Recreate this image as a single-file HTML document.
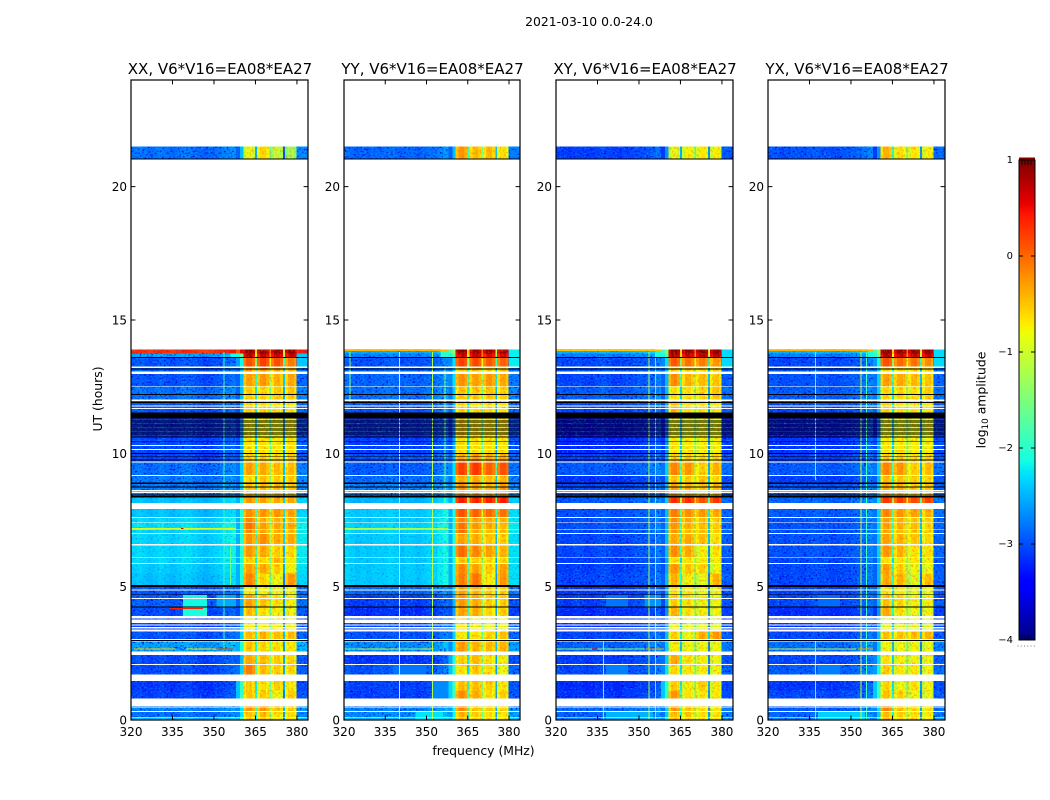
<!DOCTYPE html>
<html>
<head>
<meta charset="utf-8">
<title>2021-03-10 0.0-24.0</title>
<style>
html,body{margin:0;padding:0;background:#fff;}
svg{display:block;font-family:"DejaVu Sans","Liberation Sans",sans-serif;fill:#000;}
</style>
</head>
<body>
<svg id="figure" xmlns="http://www.w3.org/2000/svg" width="1050" height="800" viewBox="0 0 1050 800">
<defs>
<filter id="speckle-dark" filterUnits="userSpaceOnUse" x="0" y="0" width="1050" height="800" color-interpolation-filters="sRGB">
<feTurbulence type="fractalNoise" baseFrequency="0.45 0.55" numOctaves="2" seed="7" result="n"/>
<feColorMatrix in="n" type="matrix" values="0 0 0 0 0  0 0 0 0 0  0 0 0 0 0.88  5 0 0 0 -2.7" result="c"/>
<feComposite in="c" in2="SourceAlpha" operator="in"/>
</filter>
<filter id="speckle-light" filterUnits="userSpaceOnUse" x="0" y="0" width="1050" height="800" color-interpolation-filters="sRGB">
<feTurbulence type="fractalNoise" baseFrequency="0.45 0.6" numOctaves="2" seed="19" result="n"/>
<feColorMatrix in="n" type="matrix" values="0 0 0 0 0  0 0 0 0 0.68  0 0 0 0 1  0 5 0 0 -2.8" result="c"/>
<feComposite in="c" in2="SourceAlpha" operator="in"/>
</filter>
<filter id="speckle-warm" filterUnits="userSpaceOnUse" x="0" y="0" width="1050" height="800" color-interpolation-filters="sRGB">
<feTurbulence type="fractalNoise" baseFrequency="0.5 0.4" numOctaves="2" seed="31" result="n"/>
<feColorMatrix in="n" type="matrix" values="0 0 0 0 1  0 0 0 0 0.35  0 0 0 0 0  0 0 5 0 -2.6" result="c"/>
<feComposite in="c" in2="SourceAlpha" operator="in"/>
</filter>
</defs>
<text x="589" y="26" text-anchor="middle" font-size="12.4">2021-03-10 0.0-24.0</text>
<g id="panels"></g>
<text transform="translate(102 399) rotate(-90)" text-anchor="middle" font-size="12.4">UT (hours)</text>
<text x="483.5" y="755" text-anchor="middle" font-size="12.4">frequency (MHz)</text>
<g id="colorbar"></g>
<text transform="translate(985.5 400) rotate(-90)" text-anchor="middle" font-size="12.4">log<tspan font-size="8.8" dy="2.5">10</tspan><tspan dy="-2.5"> amplitude</tspan></text>
</svg>
<script>
// ---- Chart data ----
const panelTitles = ["XX, V6*V16=EA08*EA27","YY, V6*V16=EA08*EA27","XY, V6*V16=EA08*EA27","YX, V6*V16=EA08*EA27"];
const freqTicks = [320,335,350,365,380];
const utTicks = [0,5,10,15,20];
const colorbarTicks = [-4,-3,-2,-1,0,1];
const colorbarTickLabels = ["\u22124","\u22123","\u22122","\u22121","0","1"];

// Time bands (UT hours)
const bandStart = [0,.12,.3,.8,1.1,1.7,2.1,2.56,3.04,3.4,3.9,4.26,4.7,5.06,5.5,5.89,6.12,6.6,7.0,7.17,7.41,7.62,8.14,8.41,8.9,9.19,9.69,10.02,10.6,11.53,12.02,12.53,13.06,13.25,13.62,13.75,21.05];
const bandEnd = [.12,.3,.53,1.1,1.46,2.06,2.45,2.95,3.32,3.9,4.22,4.7,4.98,5.5,5.85,6.1,6.55,7.0,7.17,7.41,7.57,7.92,8.35,8.85,9.15,9.65,10.0,10.6,11.48,11.96,12.5,12.97,13.25,13.58,13.75,13.9,21.5];

// log10 amplitude per band: [low band, transition, block 1, block 2, block 3, block 4]
const levelsXX = [
[-2.5,-2.2,-.6,-.55,-.75,-.7],[-2.85,-2.5,-.55,-.5,-.7,-.7],[-2.75,-2.5,-.3,-.3,-.55,-.6],
[-3.1,-2.2,-.55,-.6,-.85,-.6],[-3.15,-2.2,-.6,-.7,-.6,-.75],[-3.05,-2.6,-.15,-.5,-.6,-.65],
[-3.05,-2.7,-.4,-.5,-.6,-.65],[-2.6,-2.3,-.55,-.65,-.7,-.75],[-3.0,-2.6,-.5,-.45,-.5,-.5],
[-3.1,-2.7,-.75,-.8,-.8,-.85],[-3.05,-2.8,-.5,-.7,-.8,-.85],[-2.95,-2.7,-.35,-.55,-.7,-.8],
[-3.0,-2.7,-.75,-.8,-.85,-.85],[-2.45,-2.3,-.2,-.65,-.85,-.3],[-2.4,-2.3,-.35,-.4,-.6,-.8],
[-2.35,-2.3,-.6,-.65,-.45,-.75],[-2.35,-2.3,-.3,-.4,-.6,-.65],[-2.35,-2.3,-.3,-.25,-.4,-.4],
[-2.35,-2.3,-.25,-.4,-.45,-.5],[-2.3,-2.3,-.1,-.35,-.4,-.4],[-2.35,-2.3,-.2,-.45,-.45,-.5],
[-2.45,-2.3,-.25,-.3,-.3,-.35],[-2.45,-2.3,-.3,-.35,-.4,-.4],[-2.8,-2.6,-.55,-.5,-.5,-.55],
[-2.8,-2.6,-.65,-.55,-.6,-.6],[-2.85,-2.6,-.35,-.4,-.5,-.5],[-3.1,-2.8,-.6,-.6,-.65,-.6],
[-3.05,-2.8,-.7,-.7,-.75,-.7],[-3.2,-3.0,-.8,-.8,-.8,-.8],[-3.0,-2.8,-.6,-.65,-.7,-.75],
[-2.85,-2.7,-.6,-.65,-.6,-.55],[-3.0,-2.7,-.35,-.3,-.45,-.4],[-2.95,-2.7,-.35,-.3,-.4,-.45],
[-3.0,-2.4,.1,.2,.1,-.15],[-2.6,-1.9,.75,.7,.7,.7],[.25,.3,.95,.9,.9,.9],
[-2.85,-2.7,-.9,-.65,-1.1,-1.3]];
const levelsYY = [
[-2.5,-2.2,-.5,-.6,-.7,-.75],[-2.7,-2.4,-.45,-.6,-.7,-.75],[-2.75,-2.4,-.2,-.55,-.6,-.65],
[-3.1,-2.1,-.25,-.4,-.7,-.6],[-3.1,-2.1,-.5,-.5,-.6,-.75],[-3.0,-2.2,-.7,-.55,-.7,-.85],
[-3.15,-2.3,-.6,-.5,-.7,-.8],[-2.7,-2.5,-.3,-.45,-.5,-.45],[-3.0,-2.6,-.75,-.7,-.6,-.5],
[-3.05,-2.7,-.7,-.8,-.85,-.85],[-3.2,-2.8,-.35,-.4,-.65,-.6],[-3.1,-2.7,-.3,-.4,-.6,-.6],
[-2.9,-2.6,-.35,-.45,-.6,-.6],[-2.4,-2.3,-.15,-.1,-.75,-.3],[-2.4,-2.3,-.2,-.35,-.6,-.35],
[-2.4,-2.3,-.55,-.6,-.7,-.65],[-2.4,-2.3,-.05,-.2,-.35,-.45],[-2.4,-2.3,-.35,-.4,-.55,-.6],
[-2.35,-2.3,-.05,-.4,-.5,-.5],[-2.35,-2.3,-.1,-.3,-.4,-.5],[-2.4,-2.3,-.2,-.35,-.4,-.45],
[-2.4,-2.3,.1,0,-.05,-.1],[-2.5,-2.3,.4,.35,.35,.4],[-2.75,-2.5,-.25,-.35,-.45,-.3],
[-2.85,-2.6,-.4,-.4,-.5,-.45],[-2.95,-2.5,.2,.25,0,.1],[-3.0,-2.7,-.4,-.3,-.4,-.4],
[-3.1,-2.8,-.7,-.7,-.7,-.75],[-3.2,-3.0,-.6,-.7,-.7,-.7],[-3.0,-2.7,-.6,-.7,-.65,-.7],
[-2.85,-2.6,-.55,-.55,-.55,-.6],[-2.9,-2.5,-.25,-.35,-.3,-.4],[-2.95,-2.6,-.55,-.5,-.6,-.6],
[-3.0,-2.5,.2,.15,.05,0],[-2.75,-1.9,.7,.7,.6,.6],[-2.55,-1.6,.95,.85,.85,.85],
[-2.9,-2.7,-.3,-.5,-.5,-.7]];
const levelsXY = [
[-2.75,-2.4,-.5,-.6,-.7,-.7],[-2.9,-2.6,-.5,-.6,-.7,-.75],[-2.85,-2.6,-.3,-.55,-.7,-.75],
[-3.15,-2.2,-.3,-.7,-.75,-.75],[-3.2,-2.2,-.6,-.8,-.6,-.8],[-3.05,-2.5,-.65,-.75,-.8,-.85],
[-3.1,-2.6,-.4,-.7,-.8,-.85],[-2.9,-2.6,-.8,-.85,-.85,-.85],[-3.05,-2.7,-.6,-.85,-.4,-.3],
[-3.15,-2.8,-.85,-.9,-.9,-.95],[-3.2,-2.9,-.45,-.7,-.8,-.85],[-3.1,-2.8,-.6,-.7,-.8,-.85],
[-3.15,-2.8,-.7,-.75,-.85,-.85],[-3.05,-2.7,-.45,-.8,-.9,-.45],[-3.1,-2.8,-.3,-.55,-.6,-.85],
[-3.1,-2.8,-.7,-.7,-.75,-.8],[-3.05,-2.7,-.25,-.4,-.8,-.7],[-3.05,-2.7,-.4,-.4,-.5,-.7],
[-3.0,-2.7,-.3,-.5,-.5,-.6],[-3.0,-2.7,-.3,-.45,-.5,-.6],[-3.0,-2.7,-.25,-.4,-.5,-.6],
[-3.0,-2.7,-.15,-.25,-.3,-.4],[-2.95,-2.6,.3,.3,.1,.25],[-3.05,-2.7,-.35,-.45,-.55,-.5],
[-3.15,-2.8,-.55,-.6,-.55,-.65],[-2.95,-2.6,-.2,-.3,-.6,-.45],[-3.1,-2.8,-.6,-.6,-.65,-.65],
[-3.2,-2.9,-.75,-.75,-.8,-.8],[-3.35,-3.1,-.85,-.85,-.85,-.85],[-3.05,-2.8,-.5,-.7,-.7,-.75],
[-2.95,-2.7,-.7,-.7,-.65,-.55],[-3.05,-2.7,-.25,-.45,-.5,-.55],[-3.0,-2.7,-.6,-.6,-.65,-.65],
[-3.05,-2.5,.05,-.1,-.15,-.3],[-2.75,-1.9,.8,.7,.75,.75],[-2.5,-1.7,.95,.9,.95,.9],
[-3.1,-2.9,-.9,-.8,-.75,-.8]];
const levelsYX = [
[-2.7,-2.4,-.45,-.6,-.65,-.75],[-2.9,-2.6,-.5,-.6,-.7,-.75],[-2.95,-2.5,-.2,-.55,-.65,-.7],
[-3.05,-2.2,-.55,-.6,-.85,-.9],[-3.15,-2.2,-.65,-.85,-.7,-.85],[-2.95,-2.4,-.6,-.75,-.75,-.85],
[-3.05,-2.5,-.7,-.8,-.85,-.85],[-2.85,-2.6,-.85,-.85,-.85,-.9],[-3.05,-2.7,-.55,-.55,-.5,-.45],
[-3.15,-2.8,-.9,-.9,-.9,-.95],[-3.2,-2.9,-.4,-.7,-.85,-.85],[-3.05,-2.7,-.55,-.65,-.8,-.8],
[-3.1,-2.7,-.7,-.75,-.9,-.85],[-3.05,-2.7,-.4,-.45,-.95,-.5],[-3.05,-2.7,-.35,-.6,-.85,-.85],
[-3.05,-2.7,-.7,-.7,-.75,-.8],[-3.0,-2.6,-.3,-.45,-.7,-.7],[-3.0,-2.6,-.35,-.45,-.55,-.65],
[-3.0,-2.6,-.4,-.5,-.55,-.6],[-3.0,-2.6,-.35,-.45,-.5,-.6],[-3.0,-2.6,-.35,-.45,-.55,-.6],
[-2.95,-2.6,-.2,-.3,-.35,-.45],[-2.9,-2.5,.25,.2,.15,.2],[-3.0,-2.6,-.4,-.45,-.6,-.55],
[-3.1,-2.7,-.5,-.55,-.6,-.65],[-2.95,-2.6,-.2,-.3,-.6,-.5],[-3.1,-2.8,-.6,-.6,-.7,-.65],
[-3.15,-2.8,-.75,-.75,-.8,-.8],[-3.3,-3.1,-.85,-.85,-.85,-.85],[-3.05,-2.7,-.6,-.7,-.75,-.75],
[-2.95,-2.6,-.65,-.65,-.7,-.6],[-3.0,-2.6,-.35,-.4,-.5,-.55],[-3.0,-2.6,-.6,-.6,-.65,-.65],
[-3.05,-2.4,.1,-.05,-.1,-.25],[-2.75,-1.8,.8,.7,.7,.7],[-2.5,-1.6,.95,.9,.9,.9],
[-3.0,-2.9,-.45,-.7,-.75,-.8]];
const panelLevels = [levelsXX, levelsYY, levelsXY, levelsYX];

// Low-band spectral offsets (one value per 2 MHz, 320-358 MHz)
const tiltXX = [.05,.1,.05,0,.05,.1,.05,0,.05,.1,.1,.05,0,-.05,0,.05,.1,.15,.2];
const tiltYY = [.1,.05,0,.05,0,.05,.05,.05,.1,.05,0,.05,.05,0,.05,.1,.1,.2,.3];
const tiltXY = [.05,0,0,.05,.05,0,0,.05,.1,.05,0,0,.05,.05,.1,.1,.15,.2,.3];
const tiltYX = [.05,.05,0,0,.05,.05,0,.05,.1,.05,.05,0,0,.05,.05,.1,.15,.2,.3];
const panelTilt = [tiltXX, tiltYY, tiltXY, tiltYX];

// Bright-block frequency ranges (MHz) and their profile across each block
const blockStart = [360.6,365.6,370.6,375.7];
const blockEnd = [364.8,370,375,379.9];
const blockProfile = [-.22,.03,.06,-.12];
const gapDrop = [-1.6,-.95,-1.9];

// Localised bright patches: panel, f0, f1, h0, h1, level
const patches = [
[0,338.8,347.4,3.9,4.22,-2.1],[0,338.8,347.4,4.26,4.7,-2.15],[0,351,358,4.26,4.7,-2.55],
[1,338,350,1.7,2.06,-2.8],[1,346,356,0,.3,-2.25],[1,352,358,.8,1.46,-2.7],
[2,338,346,1.7,2.06,-2.75],[2,338,346,4.26,4.7,-2.8],[2,338,355,0,.3,-2.5],[2,352,358,4.26,4.7,-2.65],
[3,338,346,1.7,2.06,-2.75],[3,338,355,0,.3,-2.35],[3,338,346,4.26,4.7,-2.85],
[0,356,358,13.62,13.75,-2.1],[1,355,358,13.62,13.9,-2.0],[2,356,358,13.62,13.9,-2.1],[3,356,358,13.62,13.9,-2.1],
[0,380,384,13.25,13.75,-2.4],[1,380,384,13.25,13.9,-2.2],[2,380,384,13.25,13.9,-2.3],[3,380,384,13.25,13.9,-2.3]];

// Horizontal interference lines: panel, f0, f1, hour, level
const rfiRows = [
[0,321,336,2.68,-.55],[0,340,351,2.68,-.7],[0,351.5,357,2.68,.3],[0,334,346,4.2,.4],[0,320,358,7.2,-.95],[0,338,339,7.2,.6],
[1,320,352,2.68,-1.5],[1,325,340,2.68,-1.1],[1,348,352.5,2.68,-.9],[1,320,358,7.2,-1.2],
[2,320,352,2.68,-1.4],[2,352.5,359,2.68,-.3],[2,333,335,2.68,.4],
[3,320,352,2.68,-1.2],[3,352.5,358,2.68,-.3],
[1,320,358,13.88,-.4],[2,320,358,13.88,-.5],[3,320,358,13.88,-.4]];

// Vertical interference columns: panel, freq, h0, h1, level
const rfiColumns = [
[1,340,0,13.8,-1.0],[1,352,0,13.8,-1.2],[1,322,11.9,13.8,-1.4],[1,356.5,8,13.2,-1.6],
[0,353.4,2.6,13.8,-1.9],[0,355.8,5,6.5,-1.6],
[2,353.5,0,13.8,-1.2],[2,355.8,0,13.8,-1.9],[2,337,0,3,-1.8],
[3,353.5,0,13.8,-1.0],[3,337,0,3,-1.8],[3,337,9,13.8,-1.8],[3,355.5,0,13.8,-1.9]];

// Flagged integrations: blank (white) and zeroed (black), UT hours
const blankStart = [.09,.3,.47,.53,1.46,2.06,2.44,2.94,3.0,3.31,3.44,3.55,3.63,3.81,4.54,4.86,5.85,6.09,6.55,6.97,7.14,7.38,7.57,7.92,8.52,8.59,9.15,9.65,10.12,10.27,11.66,11.76,11.96,12.5,12.97,13.2];
const blankEnd = [.12,.34,.5,.8,1.7,2.1,2.56,2.96,3.04,3.4,3.48,3.59,3.77,3.9,4.57,4.9,5.89,6.12,6.6,7.01,7.17,7.41,7.62,8.14,8.56,8.63,9.19,9.69,10.16,10.31,11.7,11.8,12.02,12.53,13.06,13.25];
const zeroStart = [2.96,4.22,4.68,4.98,8.35,8.44,8.71,8.85,9.73,9.86,9.97,10.42,10.6,10.68,10.75,10.83,10.9,10.98,11.05,11.13,11.2,11.28,11.33,11.88,12.19,13.15,13.58,21.01];
const zeroEnd = [3.0,4.26,4.7,5.06,8.41,8.46,8.75,8.9,9.76,9.88,10.02,10.44,10.63,10.71,10.78,10.86,10.93,11.01,11.08,11.16,11.23,11.31,11.53,11.92,12.23,13.19,13.62,21.05];

// ---- Axis functions ----
const panelLefts = [131,344,556,768];
const panelRights = [308,520,733,945];
function xScale(p, f){ return panelLefts[p] + (f-320)*(panelRights[p]-panelLefts[p])/64; }
function yScale(h){ return 720 - h*(640/24); }
function cbScale(v){ return 640 - (v+4)*96; }

function seg(t, pts){
  for(let i=1;i<pts.length;i++){
    if(t<=pts[i][0]){
      const a=pts[i-1],b=pts[i];
      return a[1]+(b[1]-a[1])*(t-a[0])/(b[0]-a[0]);
    }
  }
  return pts[pts.length-1][1];
}
const jetR=[[0,0],[.35,0],[.66,1],[.89,1],[1,.5]];
const jetG=[[0,0],[.125,0],[.375,1],[.64,1],[.91,0],[1,0]];
const jetB=[[0,.5],[.11,1],[.34,1],[.65,0],[1,0]];
function jet(v){
  const t=Math.max(0,Math.min(1,(v+4)/5));
  return 'rgb('+Math.round(255*seg(t,jetR))+','+Math.round(255*seg(t,jetG))+','+Math.round(255*seg(t,jetB))+')';
}

const NS='http://www.w3.org/2000/svg';
function make(tag,parent){
  const e=document.createElementNS(NS,tag);
  parent.appendChild(e);
  return e;
}
function box(parent,x0,x1,y0,y1,fill){
  const r=make('rect',parent);
  r.setAttribute('x',x0.toFixed(2));
  r.setAttribute('y',y0.toFixed(2));
  r.setAttribute('width',Math.max(0,x1-x0).toFixed(2));
  r.setAttribute('height',Math.max(0,y1-y0).toFixed(2));
  r.setAttribute('fill',fill);
  return r;
}

const panelsRoot=document.getElementById('panels');

panelTitles.forEach(function(title,p){
  const L=panelLefts[p],R=panelRights[p];
  const g=make('g',panelsRoot);
  
  

  const t=make('text',g);
  
  
  t.setAttribute('x',(L+R)/2+0.5);
  t.setAttribute('y',74);
  t.setAttribute('text-anchor','middle');
  t.setAttribute('font-size','15');
  t.textContent=title;

  const heat=make('g',g);
  
  
  heat.setAttribute('shape-rendering','crispEdges');

  const levels=panelLevels[p];
  const tilt=panelTilt[p];
  function cell(parent,f0,f1,h0,h1,v){
    const c=box(parent,xScale(p,f0),xScale(p,f1),yScale(h1),yScale(h0),jet(v));
    
    
  }
  bandStart.forEach(function(h0,b){
    const h1=bandEnd[b];
    const row=levels[b];
    tilt.forEach(function(off,i){
      cell(heat,320+2*i,322+2*i,h0,h1,row[0]+off);
    });
    cell(heat,358,359.4,h0,h1,row[1]-0.2);
    cell(heat,359.4,blockStart[0],h0,h1,row[1]+0.25);
    blockStart.forEach(function(fs,k){
      const fe=blockEnd[k];
      const w=(fe-fs)/blockProfile.length;
      blockProfile.forEach(function(dv,j){
        cell(heat,fs+j*w,fs+(j+1)*w,h0,h1,row[2+k]+dv);
      });
      if(k<3){
        cell(heat,fe,blockStart[k+1],h0,h1,row[2+k]+gapDrop[k]);
      }
    });
    cell(heat,blockEnd[3],384,h0,h1,row[0]+0.15);
  });

  // Fine-grain mottling overlays (decorative, follows the band level)
  [['speckle-dark',.85,.22,0],['speckle-light',.55,.25,0],['speckle-warm',0,0,.4]].forEach(function(s){
    const sg=make('g',g);
    
    
    sg.setAttribute('filter','url(#'+s[0]+')');
    bandStart.forEach(function(h0,b){
      const h1=bandEnd[b];
      const op=levels[b][0]>-2.6?s[2]:s[1];
      const y0=yScale(h1),y1=yScale(h0);
      if(op>0){
        box(sg,xScale(p,320),xScale(p,358),y0,y1,'#000').setAttribute('fill-opacity',op);
        box(sg,xScale(p,blockEnd[3]),xScale(p,384),y0,y1,'#000').setAttribute('fill-opacity',op);
      }
      if(s[3]>0){
        box(sg,xScale(p,blockStart[0]),xScale(p,blockEnd[3]),y0,y1,'#000').setAttribute('fill-opacity',s[3]);
      }
    });
  });

  const marks=make('g',g);
  
  
  marks.setAttribute('shape-rendering','crispEdges');
  patches.forEach(function(q){
    if(q[0]!==p) return;
    cell(marks,q[1],q[2],q[3],q[4],q[5]);
  });
  rfiColumns.forEach(function(q){
    if(q[0]!==p) return;
    const x=xScale(p,q[1]);
    const c=box(marks,x,x+1,yScale(q[3]),yScale(q[2]),jet(q[4]));
    
    
  });
  rfiRows.forEach(function(q){
    if(q[0]!==p) return;
    const y=yScale(q[3]);
    const c=box(marks,xScale(p,q[1]),xScale(p,q[2]),y,y+1,jet(q[4]));
    
    
  });

  const flags=make('g',g);
  
  
  flags.setAttribute('shape-rendering','crispEdges');
  blankStart.forEach(function(h0,i){
    const r=box(flags,L,R,yScale(blankEnd[i]),yScale(h0),'#fff');
    
    
  });
  zeroStart.forEach(function(h0,i){
    const r=box(flags,L,R,yScale(zeroEnd[i]),yScale(h0),'#000');
    
    
  });

  const frame=make('rect',g);
  
  
  frame.setAttribute('x',L);
  frame.setAttribute('y',80);
  frame.setAttribute('width',R-L);
  frame.setAttribute('height',640);
  frame.setAttribute('fill','none');
  frame.setAttribute('stroke','#000');
  frame.setAttribute('stroke-width','1.2');

  freqTicks.forEach(function(f){
    const x=xScale(p,f);
    const tb=make('path',g);
    
    
    tb.setAttribute('d','M'+x+' 720V715.6M'+x+' 80V84.4');
    tb.setAttribute('stroke','#000');
    tb.setAttribute('stroke-width','1');
    const lb=make('text',g);
    
    
    lb.setAttribute('x',x);
    lb.setAttribute('y',736);
    lb.setAttribute('text-anchor','middle');
    lb.setAttribute('font-size','12');
    lb.textContent=f;
  });
  utTicks.forEach(function(h){
    const y=yScale(h);
    const tb=make('path',g);
    
    
    tb.setAttribute('d','M'+L+' '+y+'H'+(L+4.4)+'M'+R+' '+y+'H'+(R-4.4));
    tb.setAttribute('stroke','#000');
    tb.setAttribute('stroke-width','1');
    const lb=make('text',g);
    
    
    lb.setAttribute('x',L-4);
    lb.setAttribute('y',y+4.5);
    lb.setAttribute('text-anchor','end');
    lb.setAttribute('font-size','12');
    lb.textContent=h;
  });
});

// ---- Colorbar ----
const cb=document.getElementById('colorbar');
const cbLeft=1019,cbRight=1035;
const cbRamp=make('g',cb);


cbRamp.setAttribute('shape-rendering','crispEdges');
for(let v=-4;v<1;v+=0.025){
  box(cbRamp,cbLeft,cbRight,cbScale(v+0.025),cbScale(v)+0.5,jet(v+0.0125));
}
const cbFrame=make('rect',cb);


cbFrame.setAttribute('x',cbLeft);
cbFrame.setAttribute('y',160);
cbFrame.setAttribute('width',cbRight-cbLeft);
cbFrame.setAttribute('height',480);
cbFrame.setAttribute('fill','none');
cbFrame.setAttribute('stroke','#000');
cbFrame.setAttribute('stroke-width','1');
colorbarTicks.forEach(function(v,i){
  const y=cbScale(v);
  const tk=make('path',cb);
  
  
  tk.setAttribute('d','M'+cbLeft+' '+y+'h4M'+cbRight+' '+y+'h-4');
  tk.setAttribute('stroke','#000');
  tk.setAttribute('stroke-width','1');
  const lb=make('text',cb);
  
  
  lb.setAttribute('x',1013);
  lb.setAttribute('y',y+3);
  lb.setAttribute('text-anchor','end');
  lb.setAttribute('font-size','10');
  lb.textContent=colorbarTickLabels[i];
});
const cbEndMarks=make('path',cb);


cbEndMarks.setAttribute('d','M1022 160v5M1025 160v5M1028 160v5M1031 160v5M1022 640v-5M1025 640v-5M1028 640v-5M1031 640v-5');
cbEndMarks.setAttribute('stroke','#000');
cbEndMarks.setAttribute('stroke-width','0.8');
const cbDots=make('path',cb);


cbDots.setAttribute('d','M1017.5 646h1M1020.8 646h1M1024 646h1M1027.3 646h1M1030.5 646h1M1033.8 646h1');
cbDots.setAttribute('stroke','#777');
cbDots.setAttribute('stroke-width','1');
</script>
</body>
</html>
